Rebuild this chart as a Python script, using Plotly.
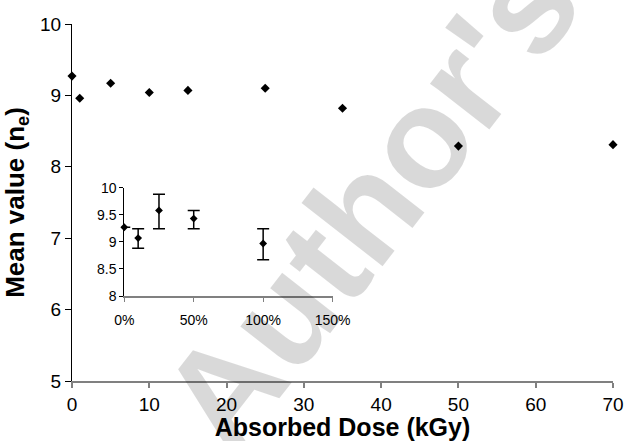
import plotly.graph_objects as go

# Main series: mean value vs absorbed dose
dose_kgy = [0, 1, 5, 10, 15, 25, 35, 50, 70]
mean_value = [9.27, 8.96, 9.17, 9.04, 9.07, 9.10, 8.82, 8.29, 8.31]

# Inset series
inset_pct = [0, 10, 25, 50, 100]
inset_value = [9.27, 9.07, 9.58, 9.43, 8.97]
inset_err_plus = [0.0, 0.17, 0.30, 0.15, 0.27]
inset_err_minus = [0.0, 0.19, 0.34, 0.19, 0.30]

main_ticks = [0, 10, 20, 30, 40, 50, 60, 70]
inset_xticks = [0, 50, 100, 150]
inset_xticklabels = ["0%", "50%", "100%", "150%"]
inset_yticks = [8, 8.5, 9, 9.5, 10]
inset_yticklabels = ["8", "8.5", "9", "9.5", "10"]

FONT = "Liberation Sans, Arial, sans-serif"

fig = go.Figure()

fig.add_trace(go.Scatter(
    x=dose_kgy, y=mean_value, mode="markers",
    marker=dict(symbol="diamond", size=7, color="black"),
    cliponaxis=False, showlegend=False, xaxis="x", yaxis="y",
))

# inset error bars (clipped) and markers (unclipped)
fig.add_trace(go.Scatter(
    x=inset_pct, y=inset_value, mode="markers",
    marker=dict(symbol="diamond", size=5, color="rgba(0,0,0,0)"),
    error_y=dict(type="data", symmetric=False, array=inset_err_plus,
                 arrayminus=inset_err_minus, color="black", thickness=1.5, width=6),
    cliponaxis=True, showlegend=False, xaxis="x2", yaxis="y2",
))
fig.add_trace(go.Scatter(
    x=inset_pct, y=inset_value, mode="markers",
    marker=dict(symbol="diamond", size=6, color="black"),
    cliponaxis=False, showlegend=False, xaxis="x2", yaxis="y2",
))

fig.update_layout(
    width=643, height=441,
    margin=dict(l=72, r=12, t=24, b=60),
    paper_bgcolor="white", plot_bgcolor="white",
    font=dict(family=FONT, color="black"),
    xaxis=dict(
        range=[0, 70], tickvals=main_ticks, showgrid=False, zeroline=False,
        showline=True, linecolor="#808080", linewidth=1.5,
        ticks="outside", ticklen=5, tickcolor="#808080", tickwidth=1.5,
        tickfont=dict(size=19, family=FONT),
        title=dict(text="<b>Absorbed Dose (kGy)</b>", font=dict(size=25, family=FONT), standoff=0),
        automargin=False,
    ),
    yaxis=dict(
        range=[5, 10], dtick=1, showgrid=False, zeroline=False,
        showline=True, linecolor="black", linewidth=1,
        ticks="outside", ticklen=6, tickcolor="black", tickwidth=1,
        tickfont=dict(size=19, family=FONT),
        title=dict(text="<b>Mean value (n<sub>e</sub>)</b>", font=dict(size=26, family=FONT), standoff=10),
        automargin=False,
    ),
    xaxis2=dict(
        domain=[0.0966, 0.4817], anchor="y2",
        range=[0, 150], tickvals=inset_xticks, ticktext=inset_xticklabels,
        showgrid=False, zeroline=False,
        showline=True, linecolor="#808080", linewidth=1.5,
        ticks="outside", ticklen=4, tickcolor="#808080", tickwidth=1,
        tickfont=dict(size=14, family=FONT), ticklabelstandoff=6,
    ),
    yaxis2=dict(
        domain=[0.238, 0.5415], anchor="x2",
        range=[8, 10], tickvals=inset_yticks, ticktext=inset_yticklabels,
        showgrid=False, zeroline=False,
        showline=True, linecolor="black", linewidth=1,
        ticks="outside", ticklen=4, tickcolor="black", tickwidth=1,
        tickfont=dict(size=14, family=FONT),
    ),
    annotations=[dict(
        text="<b>Author's</b>", xref="paper", yref="paper",
        x=0.55, y=0.50, xanchor="center", yanchor="middle",
        textangle=-52, showarrow=False,
        font=dict(size=142, family=FONT, color="rgba(0,0,0,0.15)"),
    )],
)

fig.write_html("out.html", config={"displayModeBar": False},
               post_script="document.body.style.margin='0';")
